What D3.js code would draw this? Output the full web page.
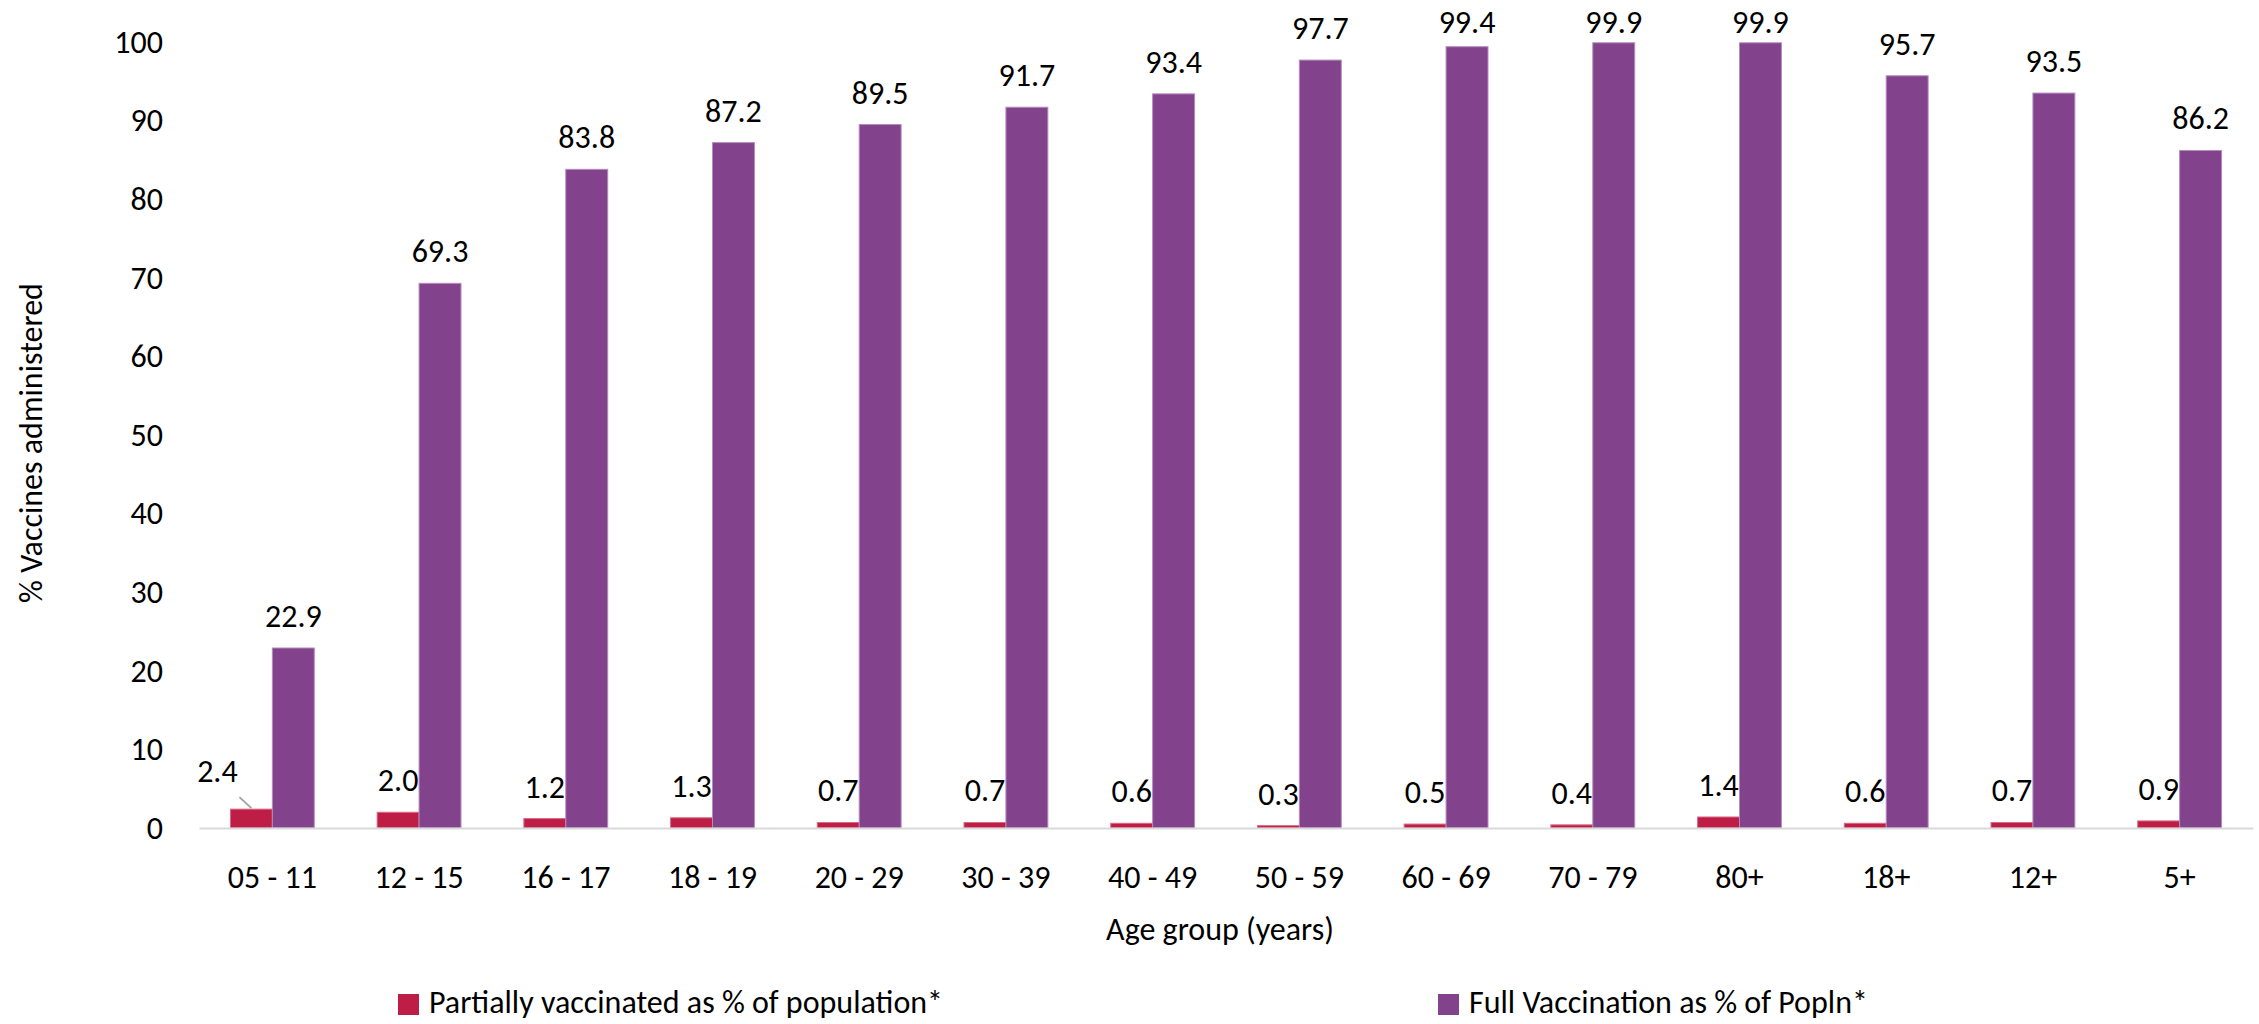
<!DOCTYPE html>
<html>
<head>
<meta charset="utf-8">
<script src="https://cdn.jsdelivr.net/npm/d3@7"></script>
<style>
  body { margin: 0; background: #fff; }
  text { font-family: Carlito, Calibri, Lato, sans-serif; fill: #000; }
</style>
</head>
<body>
<div id="chart"></div>
<script>
// Chart data
const ageGroups = ["05 - 11", "12 - 15", "16 - 17", "18 - 19", "20 - 29", "30 - 39", "40 - 49",
  "50 - 59", "60 - 69", "70 - 79", "80+", "18+", "12+", "5+"];
const partialPct = [2.4, 2.0, 1.2, 1.3, 0.7, 0.7, 0.6, 0.3, 0.5, 0.4, 1.4, 0.6, 0.7, 0.9];
const fullPct = [22.9, 69.3, 83.8, 87.2, 89.5, 91.7, 93.4, 97.7, 99.4, 99.9, 99.9, 95.7, 93.5, 86.2];
const yTicks = [0, 10, 20, 30, 40, 50, 60, 70, 80, 90, 100];

const seriesKeys = ["partial", "full"];
const seriesNames = {
  partial: "Partially vaccinated as % of population*",
  full: "Full Vaccination as % of Popln*"
};
const colors = { partial: "#be1e45", full: "#82428c" };
const strokes = { partial: "#d86a85", full: "#b58abd" };

// Layout
const W = 2259, H = 1024;
const plot = { left: 199, right: 2253, top: 42, bottom: 828 };
const fontSize = 32;

const rows = ageGroups.map((g, i) => ({ group: g, partial: partialPct[i], full: fullPct[i] }));

const svg = d3.select("#chart")
  .append("svg")
  .attr("width", W)
  .attr("height", H);

svg.append("rect").attr("width", W).attr("height", H).attr("fill", "#fff");

// Scales
const x0 = d3.scaleBand()
  .domain(ageGroups)
  .range([plot.left, plot.right])
  .padding(0);

const x1 = d3.scaleBand()
  .domain(seriesKeys)
  .range([0, x0.bandwidth()])
  .paddingInner(0)
  .paddingOuter(0.75);

const y = d3.scaleLinear()
  .domain([0, 100])
  .range([plot.bottom, plot.top]);

// Y axis (labels only)
const yAxis = svg.append("g")
  .attr("transform", `translate(${plot.left},0)`)
  .call(d3.axisLeft(y).tickValues(yTicks).tickSize(0).tickPadding(36));
yAxis.select(".domain").remove();
yAxis.selectAll("text")
  .attr("font-size", fontSize)
  .attr("font-family", "Carlito, Calibri, Lato, sans-serif")
  .attr("fill", "#000");

// Bars
const groups = svg.selectAll("g.grp")
  .data(rows)
  .join("g")
  .attr("class", "grp")
  .attr("transform", d => `translate(${x0(d.group)},0)`);

groups.selectAll("rect")
  .data(d => seriesKeys.map(k => ({ key: k, value: d[k] })))
  .join("rect")
  .attr("x", d => x1(d.key))
  .attr("y", d => y(d.value))
  .attr("width", x1.bandwidth())
  .attr("height", d => y(0) - y(d.value))
  .attr("fill", d => colors[d.key])
  .attr("stroke", d => strokes[d.key])
  .attr("stroke-width", 1);

// X axis line + labels
const xAxis = svg.append("g")
  .attr("transform", `translate(0,${plot.bottom})`)
  .call(d3.axisBottom(x0).tickSize(0));
xAxis.select(".domain")
  .attr("stroke", "#d9d9d9")
  .attr("stroke-width", 2);
xAxis.selectAll("text")
  .attr("y", 60)
  .attr("dy", 0)
  .attr("font-size", fontSize)
  .attr("font-family", "Carlito, Calibri, Lato, sans-serif")
  .attr("fill", "#000");

// Data labels; kept inside the chart at the top, and the first partial
// label was dragged aside in the original, with a leader line
const labelGap = 21;
const minBaseline = 33;
groups.selectAll("text.val")
  .data((d, i) => seriesKeys.map(k => ({ key: k, value: d[k], idx: i })))
  .join("text")
  .attr("class", "val")
  .attr("font-size", fontSize)
  .attr("text-anchor", "middle")
  .attr("x", d => x1(d.key) + x1.bandwidth() / 2 - (d.key === "partial" && d.idx === 0 ? 34 : 0))
  .attr("y", d => Math.max(minBaseline, y(d.value) - labelGap - (d.key === "partial" && d.idx === 0 ? 6 : 0)))
  .text(d => d.value.toFixed(1));

const firstX = x0(ageGroups[0]) + x1("partial") + x1.bandwidth() / 2;
svg.append("line")
  .attr("x1", firstX - 12)
  .attr("y1", y(partialPct[0]) - 12)
  .attr("x2", firstX)
  .attr("y2", y(partialPct[0]) - 1)
  .attr("stroke", "#a6a6a6")
  .attr("stroke-width", 2);

// Axis titles
svg.append("text")
  .attr("x", 1220)
  .attr("y", 940)
  .attr("text-anchor", "middle")
  .attr("font-size", fontSize)
  .text("Age group (years)");

svg.append("text")
  .attr("transform", `translate(42,${(plot.top + plot.bottom) / 2 + 8}) rotate(-90)`)
  .attr("text-anchor", "middle")
  .attr("font-size", fontSize)
  .text("% Vaccines administered");

// Legend
const legendItems = [
  { key: "partial", x: 398 },
  { key: "full", x: 1438 }
];
const legend = svg.selectAll("g.legend")
  .data(legendItems)
  .join("g")
  .attr("class", "legend")
  .attr("transform", d => `translate(${d.x},994)`);

legend.append("rect")
  .attr("width", 21)
  .attr("height", 21)
  .attr("fill", d => colors[d.key]);

legend.append("text")
  .attr("x", 31)
  .attr("y", 19)
  .attr("font-size", fontSize)
  .text(d => seriesNames[d.key]);
</script>
</body>
</html>
